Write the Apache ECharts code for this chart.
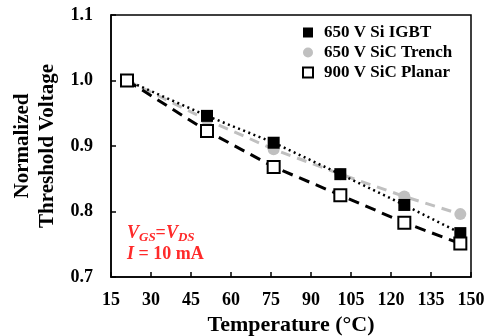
<!DOCTYPE html>
<html><head><meta charset="utf-8">
<script src="https://cdn.jsdelivr.net/npm/echarts@6/dist/echarts.min.js"></script>
<style>html,body{margin:0;padding:0;background:#fff}#c{width:492px;height:336px}</style>
</head><body><div id="c"></div>
<script>
const temperatures = [21, 51, 76, 101, 125, 146];
const igbt = [1.000, 0.946, 0.905, 0.857, 0.810, 0.767];
const sicTrench = [1.000, 0.940, 0.895, 0.857, 0.823, 0.796];
const sicPlanar = [1.000, 0.923, 0.868, 0.825, 0.783, 0.751];
const seriesNames = ['650 V Si IGBT', '650 V SiC Trench', '900 V SiC Planar'];

const F = '"Liberation Serif", "Times New Roman", serif';
const pts = (ys) => temperatures.map((t, i) => [t, ys[i]]);
const chart = echarts.init(document.getElementById('c'));
chart.setOption({
  animation: false,
  grid: {left: 111, right: 21, top: 15, bottom: 59, outerBoundsMode: 'none', containLabel: false,
         show: true, borderColor: '#000', borderWidth: 1.5, backgroundColor: 'transparent'},
  xAxis: {
    type: 'value', min: 15, max: 150, interval: 15,
    name: 'Temperature (°C)', nameLocation: 'middle', nameGap: 35,
    nameTextStyle: {fontFamily: F, fontWeight: 'bold', fontSize: 22, color: '#000'},
    axisLine: {show: true, lineStyle: {color: '#000', width: 1.5}},
    axisTick: {show: true, inside: true, length: 5, lineStyle: {color: '#000', width: 1.5}},
    axisLabel: {fontFamily: F, fontWeight: 'bold', fontSize: 18, color: '#000', margin: 14},
    splitLine: {show: false}
  },
  yAxis: {
    type: 'value', min: 0.7, max: 1.1, interval: 0.1,
    name: 'Normalized\nThreshold Voltage', nameLocation: 'middle', nameGap: 42, nameRotate: 90,
    nameTextStyle: {fontFamily: F, fontWeight: 'bold', fontSize: 21, color: '#000', lineHeight: 25},
    axisLine: {show: true, lineStyle: {color: '#000', width: 1.5}},
    axisTick: {show: true, inside: true, length: 5, lineStyle: {color: '#000', width: 1.5}},
    axisLabel: {fontFamily: F, fontWeight: 'bold', fontSize: 18, color: '#000', margin: 18, formatter: v => v.toFixed(1)},
    splitLine: {show: false}
  },
  legend: {
    left: 302, top: 24, padding: 0, orient: 'vertical', itemGap: 3, itemWidth: 10, itemHeight: 10,
    textStyle: {fontFamily: F, fontWeight: 'bold', fontSize: 17, color: '#000', padding: [0, 0, 0, 6]},
    data: [{name: seriesNames[0], icon: 'rect'}, {name: seriesNames[1], icon: 'circle'}, {name: seriesNames[2], icon: 'rect'}]
  },
  series: [
    {name: seriesNames[1], type: 'line', data: pts(sicTrench), symbol: 'circle', symbolSize: 12, z: 2,
     itemStyle: {color: '#c0c0c0'}, lineStyle: {color: '#c0c0c0', width: 3, type: [10, 7]}},
    {name: seriesNames[0], type: 'line', data: pts(igbt), symbol: 'rect', symbolSize: 12, z: 3,
     itemStyle: {color: '#000'}, lineStyle: {color: '#000', width: 2.5, type: [2, 3.5]}},
    {name: seriesNames[2], type: 'line', data: pts(sicPlanar), symbol: 'rect', symbolSize: 12, z: 4,
     itemStyle: {color: '#fff', borderColor: '#000', borderWidth: 2}, lineStyle: {color: '#000', width: 3, type: [11, 7]}}
  ],
  graphic: [{
    type: 'text', left: 127, top: 223,
    style: {
      rich: {
        i: {fontFamily: F, fontStyle: 'italic', fontWeight: 'bold', fontSize: 18, fill: '#ff2a2a'},
        s: {fontFamily: F, fontStyle: 'italic', fontWeight: 'bold', fontSize: 13, fill: '#ff2a2a', verticalAlign: 'bottom', padding: [8, 0, 0, 0]},
        b: {fontFamily: F, fontWeight: 'bold', fontSize: 18, fill: '#ff2a2a'}
      },
      text: '{i|V}{s|GS}{b|=}{i|V}{s|DS}\n{i|I}{b| = 10 mA}',
      lineHeight: 21
    }
  }]
});
</script></body></html>
